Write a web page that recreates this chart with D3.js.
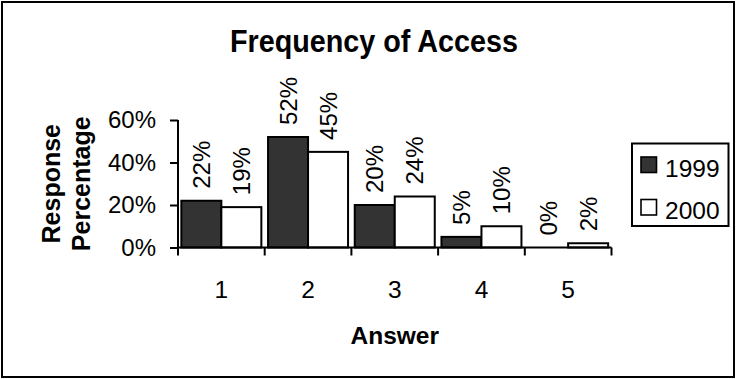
<!DOCTYPE html>
<html>
<head>
<meta charset="utf-8">
<script src="https://cdn.jsdelivr.net/npm/d3@7"></script>
<style>
  html, body { margin: 0; padding: 0; background: #fff; }
  svg { display: block; font-family: "Liberation Sans", Arial, sans-serif; }
</style>
</head>
<body>
<svg id="chart" width="736" height="379"></svg>
<script>
// Answer categories and yearly response shares (percent)
const categories = ["1", "2", "3", "4", "5"];
const years = ["1999", "2000"];
const values1999 = [22, 52, 20, 5, 0];
const values2000 = [19, 45, 24, 10, 2];
const yTicks = [0, 20, 40, 60];

const seriesFill = { "1999": "#333333", "2000": "#ffffff" };

const svg = d3.select("#chart");

// chart frame
svg.append("rect")
  .attr("x", 2).attr("y", 2)
  .attr("width", 732).attr("height", 375)
  .attr("fill", "#fff").attr("stroke", "#000").attr("stroke-width", 2);

const plot = { left: 178, right: 611.5, top: 120, bottom: 247.5 };

const x = d3.scaleBand().domain(categories).range([plot.left, plot.right]);
const barW = 40;
const x1 = d3.scaleBand().domain(years)
  .range([x.bandwidth() / 2 - barW, x.bandwidth() / 2 + barW]);
const y = d3.scaleLinear().domain([0, 60]).range([plot.bottom, plot.top]);

const rows = categories.map((c, i) => ({
  cat: c,
  vals: [{ year: "1999", v: values1999[i] }, { year: "2000", v: values2000[i] }]
}));

// title (tall, slightly condensed face)
svg.append("text")
  .attr("x", 374).attr("y", 51.5)
  .attr("text-anchor", "middle")
  .attr("font-size", 32).attr("font-weight", "bold")
  .attr("textLength", 288).attr("lengthAdjust", "spacingAndGlyphs")
  .text("Frequency of Access");

// bars
const groups = svg.append("g").selectAll("g").data(rows).join("g")
  .attr("transform", d => `translate(${x(d.cat)},0)`);

groups.selectAll("rect").data(d => d.vals).join("rect")
  .attr("x", d => x1(d.year))
  .attr("y", d => y(d.v))
  .attr("width", x1.bandwidth())
  .attr("height", d => y(0) - y(d.v))
  .attr("fill", d => seriesFill[d.year])
  .attr("stroke", "#000").attr("stroke-width", 2);

// rotated value labels
groups.selectAll("text").data(d => d.vals).join("text")
  .attr("transform", d => `translate(${x1(d.year) + x1.bandwidth() / 2},${y(d.v) - 12}) rotate(-90)`)
  .attr("dy", "0.358em")
  .attr("text-anchor", "start")
  .attr("font-size", 24)
  .text(d => d.v + "%");

// y axis
const yAxis = d3.axisLeft(y).tickValues(yTicks).tickSize(8).tickPadding(14)
  .tickFormat(d => d + "%");
const gy = svg.append("g").attr("transform", `translate(${plot.left},0)`).call(yAxis);
gy.select(".domain").attr("stroke", "#000").attr("stroke-width", 2)
  .attr("d", `M0,${plot.top}V${plot.bottom}`);
gy.selectAll(".tick line").attr("stroke", "#000").attr("stroke-width", 2);
gy.selectAll(".tick text").attr("font-size", 24).attr("fill", "#000")
  .attr("font-family", "Liberation Sans, Arial, sans-serif");

// x axis: ticks on category boundaries, labels centred in each band
const xAxis = d3.axisBottom(x).tickSize(0).tickPadding(33);
const gx = svg.append("g").attr("transform", `translate(0,${plot.bottom})`).call(xAxis);
gx.select(".domain").attr("stroke", "#000").attr("stroke-width", 2)
  .attr("d", `M${plot.left},0H${plot.right}`);
gx.selectAll(".tick text").attr("font-size", 24.5).attr("fill", "#000")
  .attr("font-family", "Liberation Sans, Arial, sans-serif");
const edges = categories.map(c => x(c)).concat([plot.right]);
gx.selectAll("line.edge").data(edges).join("line")
  .attr("class", "edge")
  .attr("x1", d => d).attr("x2", d => d)
  .attr("y1", 0).attr("y2", 8)
  .attr("stroke", "#000").attr("stroke-width", 2);

// axis titles
svg.append("text")
  .attr("x", (plot.left + plot.right) / 2).attr("y", 344)
  .attr("text-anchor", "middle")
  .attr("font-size", 24.5).attr("font-weight", "bold")
  .text("Answer");

const yTitleY = (plot.top + plot.bottom) / 2;
[["Response", 60], ["Percentage", 90]].forEach(([t, bx]) => {
  svg.append("text")
    .attr("transform", `translate(${bx},${yTitleY}) rotate(-90)`)
    .attr("text-anchor", "middle")
    .attr("font-size", 25).attr("font-weight", "bold")
    .text(t);
});

// legend
const legend = svg.append("g");
legend.append("rect")
  .attr("x", 632).attr("y", 143.5).attr("width", 96.5).attr("height", 82.5)
  .attr("fill", "#fff").attr("stroke", "#000").attr("stroke-width", 2);
const items = legend.selectAll("g.item").data(years).join("g")
  .attr("class", "item")
  .attr("transform", (d, i) => `translate(641,${157 + i * 42.5})`);
items.append("rect")
  .attr("width", 15.5).attr("height", 15.5)
  .attr("fill", d => seriesFill[d])
  .attr("stroke", "#000").attr("stroke-width", 1.6);
items.append("text")
  .attr("x", 24).attr("y", 19.5)
  .attr("font-size", 24.5)
  .text(d => d);
</script>
</body>
</html>
